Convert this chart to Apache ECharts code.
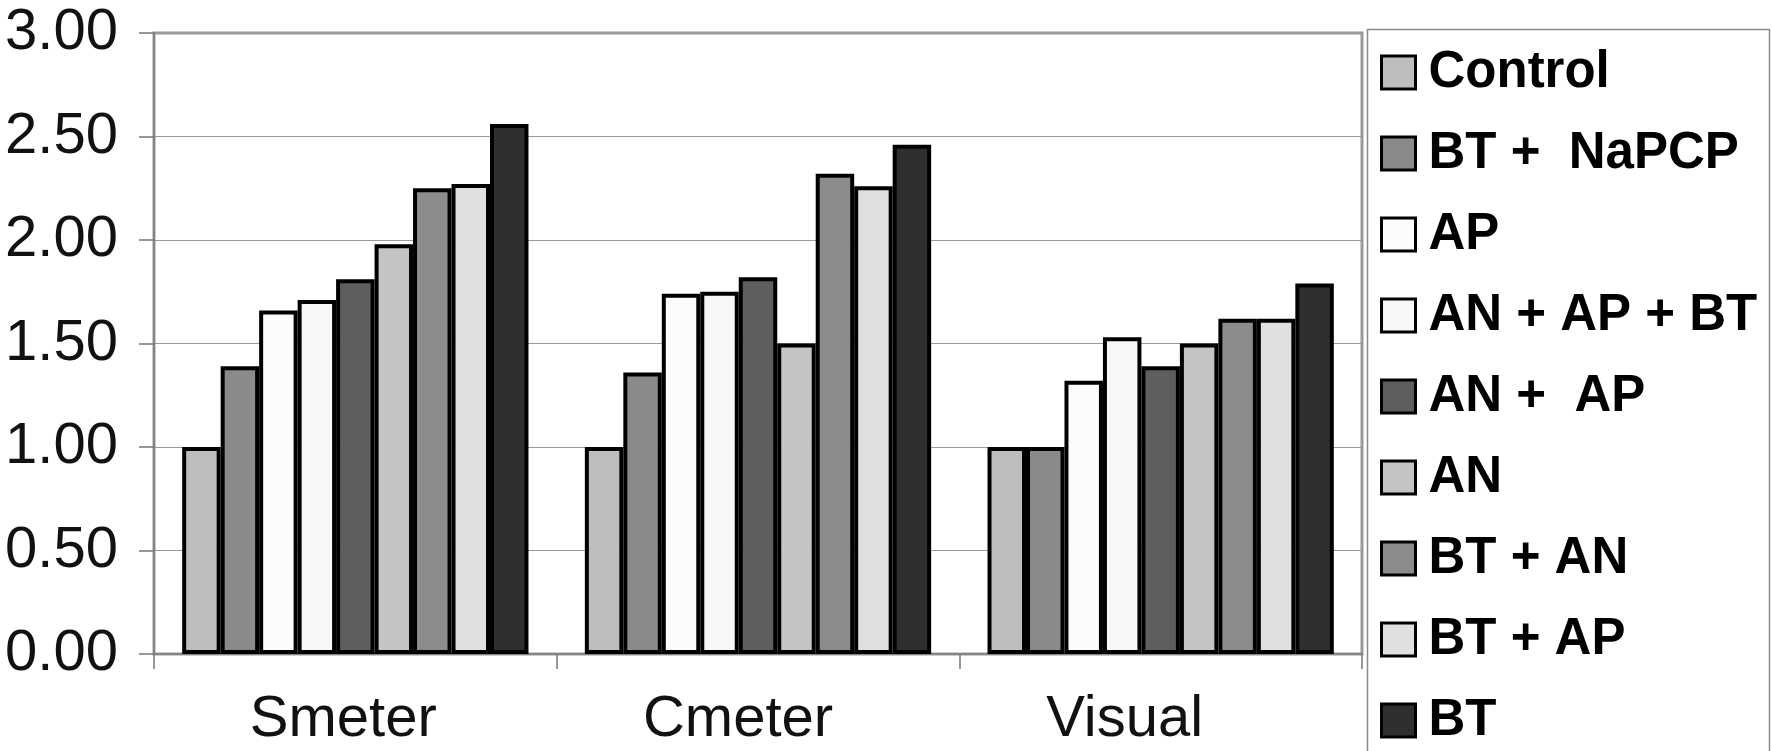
<!DOCTYPE html>
<html>
<head>
<meta charset="utf-8">
<script src="https://cdn.jsdelivr.net/npm/echarts@6/dist/echarts.min.js"></script>
<style>html,body{margin:0;padding:0;background:#fff;}#c{width:1772px;height:751px;}</style>
</head>
<body>
<div id="c"></div>
<script>
const categories = ['Smeter', 'Cmeter', 'Visual'];
const seriesNames = ['Control', 'BT +  NaPCP', 'AP', 'AN + AP + BT', 'AN +  AP', 'AN', 'BT + AN', 'BT + AP', 'BT'];
const control   = [1.00, 1.00, 1.00];
const btNapcp   = [1.39, 1.36, 1.00];
const ap        = [1.66, 1.74, 1.32];
const anApBt    = [1.71, 1.75, 1.53];
const anAp      = [1.81, 1.82, 1.39];
const an        = [1.98, 1.50, 1.50];
const btAn      = [2.25, 2.32, 1.62];
const btAp      = [2.27, 2.26, 1.62];
const bt        = [2.56, 2.46, 1.79];
const yTicks = ['0.00', '0.50', '1.00', '1.50', '2.00', '2.50', '3.00'];

const seriesValues = [control, btNapcp, ap, anApBt, anAp, an, btAn, btAp, bt];
const colors = ['#bebebe', '#8a8a8a', '#fcfcfc', '#f7f7f7', '#5e5e5e', '#c4c4c4', '#8c8c8c', '#e0e0e0', '#2f2f2f'];

const chart = echarts.init(document.getElementById('c'), null, {renderer: 'canvas'});
const FONT = 'Liberation Sans, Arial, sans-serif';

// category labels sit slightly left of the category centre in the original
const labelRich = {
  c0: {fontFamily: FONT, fontSize: 58, color: '#111', padding: [0, 24, 0, 0]},
  c1: {fontFamily: FONT, fontSize: 58, color: '#111', padding: [0, 40, 0, 0]},
  c2: {fontFamily: FONT, fontSize: 58, color: '#111', padding: [0, 72, 0, 0]}
};

chart.setOption({
  backgroundColor: '#ffffff',
  animation: false,
  grid: {left: 154, right: 410, top: 33, bottom: 97, show: true, borderColor: '#9a9a9a', borderWidth: 3},
  xAxis: {
    type: 'category',
    data: categories,
    axisLine: {show: true, lineStyle: {color: '#858585', width: 2}},
    axisTick: {show: true, length: 15, inside: false, lineStyle: {color: '#777', width: 1.5}},
    axisLabel: {fontFamily: FONT, fontSize: 58, color: '#111', margin: 37,
      formatter: function (v, i) { return '{c' + i + '|' + v + '}'; },
      rich: labelRich}
  },
  yAxis: {
    type: 'value',
    min: 0, max: 3, interval: 0.5,
    axisLine: {show: true, lineStyle: {color: '#858585', width: 2}},
    axisTick: {show: true, length: 15, lineStyle: {color: '#777', width: 1.5}},
    splitLine: {show: true, lineStyle: {color: '#9a9a9a', width: 1}},
    axisLabel: {fontFamily: FONT, fontSize: 58, color: '#111', margin: 36,
      formatter: function (v) { return yTicks[Math.round(v / 0.5)]; }}
  },
  legend: {
    orient: 'vertical',
    left: 1380,
    top: 47,
    height: 1000,
    padding: 0,
    itemGap: 30,
    itemWidth: 34,
    itemHeight: 33,
    icon: 'rect',
    data: seriesNames,
    itemStyle: {borderColor: '#000', borderWidth: 3},
    textStyle: {fontFamily: FONT, fontSize: 51, fontWeight: 'bold', color: '#000', padding: [0, 0, 0, 8]}
  },
  graphic: [{
    type: 'rect',
    shape: {x: 1367.5, y: 29.5, width: 402, height: 760},
    style: {fill: 'none', stroke: '#8a8a8a', lineWidth: 1.5},
    z: 0
  }],
  series: seriesValues.map(function (vals, i) {
    return {
      name: seriesNames[i],
      type: 'bar',
      data: vals,
      barGap: '0%',
      barCategoryGap: '14%',
      itemStyle: {color: colors[i], borderColor: '#000', borderWidth: 4}
    };
  })
});
</script>
</body>
</html>
